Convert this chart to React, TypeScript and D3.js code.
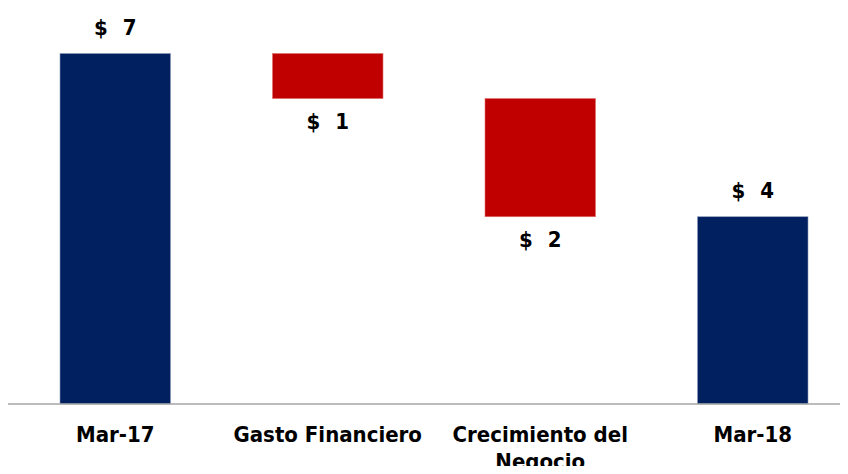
import React from "react";
import * as d3 from "d3";

const categories = ["Mar-17", "Gasto Financiero", "Crecimiento del|Negocio", "Mar-18"];
const kinds = ["total", "delta", "delta", "total"];
const values = [7.0, -0.9, -2.36, 3.74];

const W = 848;
const H = 474;
const baseY = 404;
const NAVY = "#002060";
const RED = "#C00000";
const FONT = "'DejaVu Sans Condensed', 'DejaVu Sans', sans-serif";

export default function App() {
  const x = d3.scaleBand<string>().domain(categories).range([9, 859]).paddingInner(0.48).paddingOuter(0.24);
  const y = d3.scaleLinear().domain([0, 7]).range([baseY, 53.5]);

  let running = 0;
  const bars = categories.map((c, i) => {
    let y0: number, y1: number;
    if (kinds[i] === "total") {
      y0 = 0;
      y1 = values[i];
      running = values[i];
    } else {
      y0 = running;
      y1 = running + values[i];
      running = y1;
    }
    const top = y(Math.max(y0, y1));
    const bot = y(Math.min(y0, y1));
    return { c, i, top, bot, kind: kinds[i], v: values[i] };
  });

  return (
    <div style={{ margin: -8, width: W, height: H }}>
      <svg width={W} height={H} style={{ display: "block" }}>
        <rect width={W} height={H} fill="#fff" />
        {bars.map((b) => {
          const bx = x(b.c)!;
          const bw = x.bandwidth();
          const cx = bx + bw / 2;
          const color = b.kind === "total" ? NAVY : RED;
          const label = "$ " + Math.round(Math.abs(b.v));
          const ly = b.kind === "total" ? b.top - 19 : b.bot + 30;
          return (
            <g key={b.c}>
              <rect x={bx} y={b.top} width={bw} height={b.bot - b.top} fill={color} stroke={b.kind === "total" ? "#8a9ab8" : "#e07070"} strokeWidth={0.6} />
              <text x={cx + 2} y={ly} textAnchor="middle" fontFamily={FONT} fontWeight="bold" fontSize={22} letterSpacing={4} fill="#000">
                {label}
              </text>
            </g>
          );
        })}
        <line x1={8} x2={848} y1={baseY} y2={baseY} stroke="#a6a6a6" strokeWidth={1.5} />
        {categories.map((c) => {
          const cx = x(c)! + x.bandwidth() / 2;
          const lines = c.split("|");
          return (
            <text key={c} textAnchor="middle" fontFamily={FONT} fontWeight="bold" fontSize={22} fill="#000">
              {lines.map((l, k) => (
                <tspan key={k} x={cx} y={442 + k * 27}>{l}</tspan>
              ))}
            </text>
          );
        })}
      </svg>
    </div>
  );
}
